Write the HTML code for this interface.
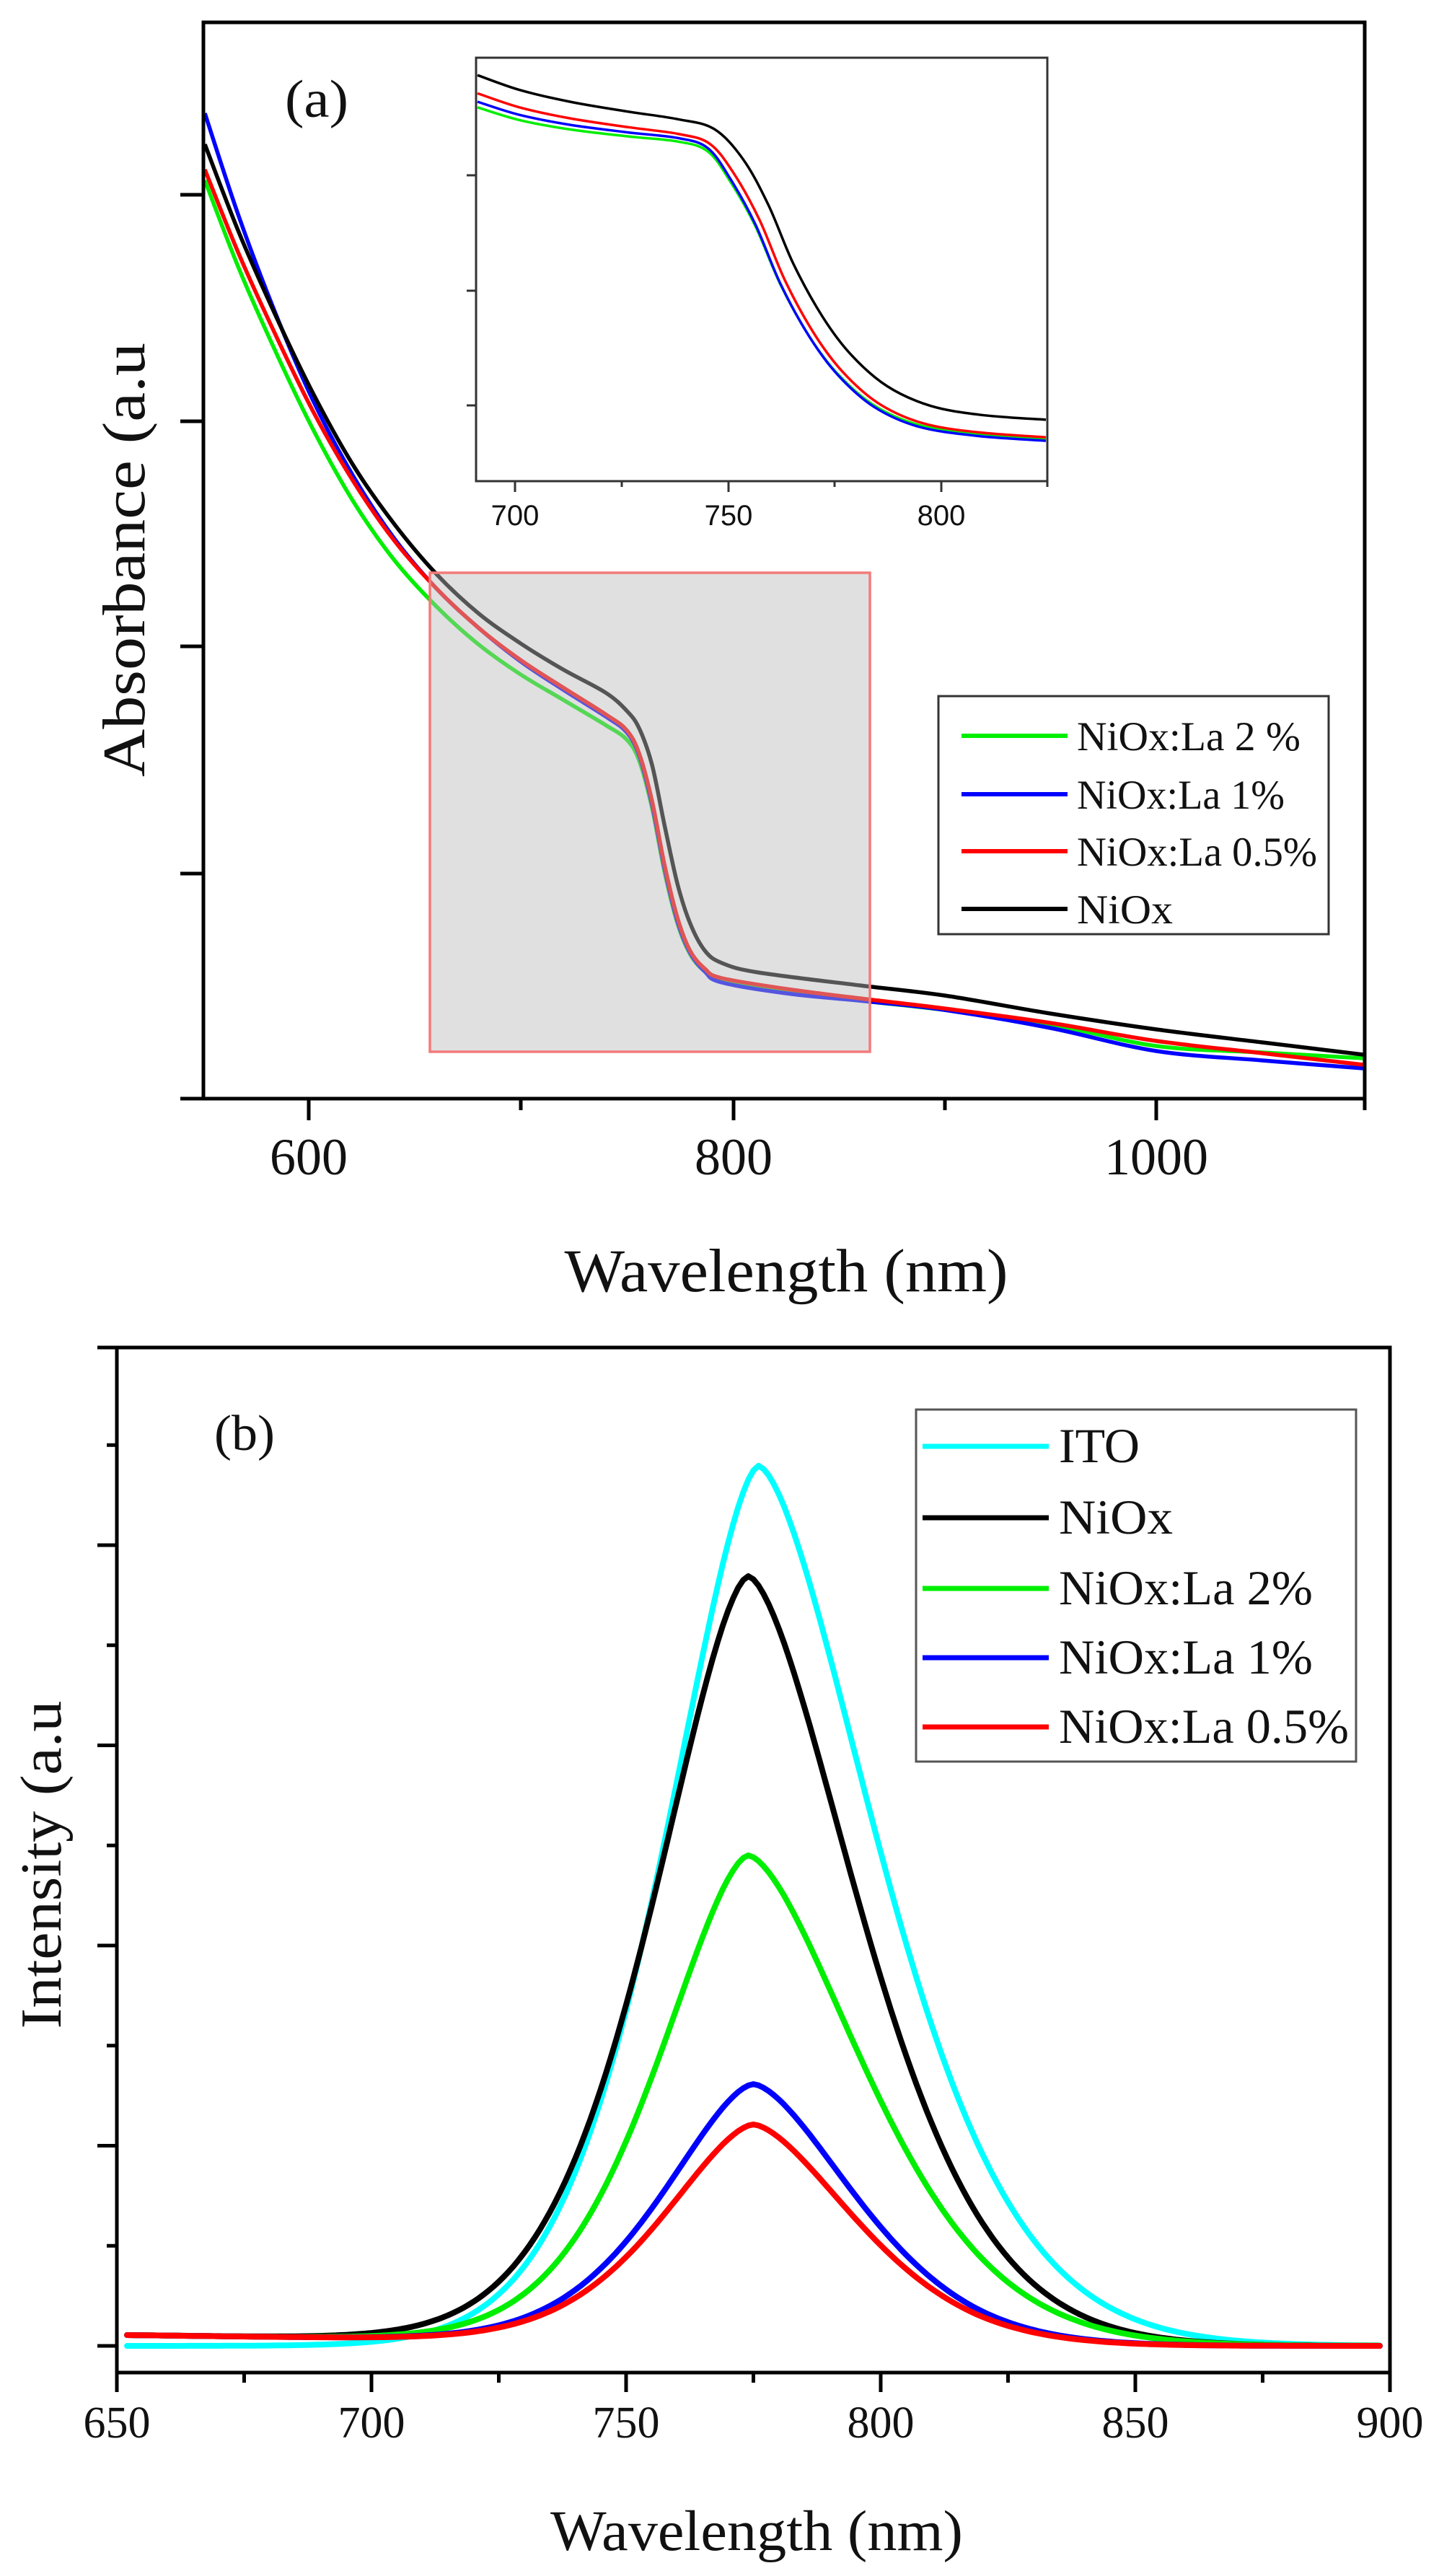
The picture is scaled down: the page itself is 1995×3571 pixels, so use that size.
<!DOCTYPE html>
<html><head><meta charset="utf-8"><style>
html,body{margin:0;padding:0;background:#fff;}
svg{display:block;}
text{font-family:"Liberation Serif",serif;fill:#111;}
.s{font-family:"Liberation Sans",sans-serif;}
</style></head><body>
<svg id="c" width="1995" height="3571" viewBox="0 0 1995 3571" xmlns="http://www.w3.org/2000/svg">
<rect width="1995" height="3571" fill="#fff"/>
<g id="gtop"></g>
<g id="gbot"></g>
<rect x="282" y="31" width="1610" height="1492" fill="none" stroke="#000" stroke-width="5"/>
<line x1="250" y1="1523" x2="282" y2="1523" stroke="#000" stroke-width="5"/>
<g stroke="#000" stroke-width="5">
<line x1="250" y1="270" x2="282" y2="270"/><line x1="250" y1="584" x2="282" y2="584"/>
<line x1="250" y1="896" x2="282" y2="896"/><line x1="250" y1="1211" x2="282" y2="1211"/>
<line x1="428" y1="1523" x2="428" y2="1553"/><line x1="1017" y1="1523" x2="1017" y2="1553"/><line x1="1603" y1="1523" x2="1603" y2="1553"/>
<line x1="722" y1="1523" x2="722" y2="1539"/><line x1="1310" y1="1523" x2="1310" y2="1539"/><line x1="1892" y1="1523" x2="1892" y2="1539"/>
</g>
<text x="428" y="1628" font-size="72" text-anchor="middle">600</text>
<text x="1017" y="1628" font-size="72" text-anchor="middle">800</text>
<text x="1603" y="1628" font-size="72" text-anchor="middle">1000</text>
<text x="1090" y="1790" font-size="85" text-anchor="middle" textLength="615" lengthAdjust="spacingAndGlyphs">Wavelength (nm)</text>
<text transform="translate(200,776) rotate(-90)" font-size="84" text-anchor="middle" textLength="602" lengthAdjust="spacingAndGlyphs">Absorbance (a.u</text>
<text x="395" y="162" font-size="74" textLength="88" lengthAdjust="spacingAndGlyphs">(a)</text>
<rect x="660" y="80" width="792" height="587" fill="none" stroke="#333" stroke-width="3"/>
<g stroke="#333" stroke-width="3">
<line x1="647" y1="243" x2="660" y2="243"/><line x1="647" y1="403" x2="660" y2="403"/><line x1="647" y1="562" x2="660" y2="562"/>
<line x1="714" y1="667" x2="714" y2="682"/><line x1="1010" y1="667" x2="1010" y2="682"/><line x1="1305" y1="667" x2="1305" y2="682"/>
<line x1="862" y1="667" x2="862" y2="675"/><line x1="1157" y1="667" x2="1157" y2="675"/><line x1="1452" y1="667" x2="1452" y2="675"/>
</g>
<text class="s" x="714" y="728" font-size="40" text-anchor="middle">700</text>
<text class="s" x="1010" y="728" font-size="40" text-anchor="middle">750</text>
<text class="s" x="1305" y="728" font-size="40" text-anchor="middle">800</text>
<rect x="1301" y="965" width="541" height="330" fill="#fff" stroke="#333" stroke-width="3"/>
<g stroke-width="6">
<line x1="1333" y1="1020" x2="1480" y2="1020" stroke="#00ee00"/>
<line x1="1333" y1="1101" x2="1480" y2="1101" stroke="#0000ff"/>
<line x1="1333" y1="1180" x2="1480" y2="1180" stroke="#ff0000"/>
<line x1="1333" y1="1260" x2="1480" y2="1260" stroke="#000"/>
</g>
<text x="1493" y="1040" font-size="57" textLength="310" lengthAdjust="spacingAndGlyphs">NiOx:La 2 %</text>
<text x="1493" y="1121" font-size="57" textLength="288" lengthAdjust="spacingAndGlyphs">NiOx:La 1%</text>
<text x="1493" y="1200" font-size="57" textLength="333" lengthAdjust="spacingAndGlyphs">NiOx:La 0.5%</text>
<text x="1493" y="1280" font-size="57" textLength="133" lengthAdjust="spacingAndGlyphs">NiOx</text>

<rect x="162" y="1868" width="1765" height="1421" fill="none" stroke="#000" stroke-width="5"/>
<line x1="135" y1="1868" x2="162" y2="1868" stroke="#000" stroke-width="5"/>
<g id="bt" stroke="#000" stroke-width="5"></g>
<text x="162" y="3379" font-size="62" text-anchor="middle">650</text>
<text x="515" y="3379" font-size="62" text-anchor="middle">700</text>
<text x="868" y="3379" font-size="62" text-anchor="middle">750</text>
<text x="1221" y="3379" font-size="62" text-anchor="middle">800</text>
<text x="1574" y="3379" font-size="62" text-anchor="middle">850</text>
<text x="1927" y="3379" font-size="62" text-anchor="middle">900</text>
<text x="1049" y="3535" font-size="79" text-anchor="middle" textLength="572" lengthAdjust="spacingAndGlyphs">Wavelength (nm)</text>
<text transform="translate(84,2585) rotate(-90)" font-size="80" text-anchor="middle" textLength="455" lengthAdjust="spacingAndGlyphs">Intensity (a.u</text>
<text x="297" y="2010" font-size="70" textLength="84" lengthAdjust="spacingAndGlyphs">(b)</text>
<rect x="1270" y="1954" width="610" height="488" fill="#fff" stroke="#555" stroke-width="3"/>
<g stroke-width="7">
<line x1="1279" y1="2005" x2="1454" y2="2005" stroke="#00ffff"/>
<line x1="1279" y1="2104" x2="1454" y2="2104" stroke="#000"/>
<line x1="1279" y1="2202" x2="1454" y2="2202" stroke="#00ee00"/>
<line x1="1279" y1="2298" x2="1454" y2="2298" stroke="#0000ff"/>
<line x1="1279" y1="2394" x2="1454" y2="2394" stroke="#ff0000"/>
</g>
<text x="1468" y="2027" font-size="68" textLength="112" lengthAdjust="spacingAndGlyphs">ITO</text>
<text x="1468" y="2126" font-size="68" textLength="158" lengthAdjust="spacingAndGlyphs">NiOx</text>
<text x="1468" y="2224" font-size="68" textLength="352" lengthAdjust="spacingAndGlyphs">NiOx:La 2%</text>
<text x="1468" y="2320" font-size="68" textLength="352" lengthAdjust="spacingAndGlyphs">NiOx:La 1%</text>
<text x="1468" y="2416" font-size="68" textLength="402" lengthAdjust="spacingAndGlyphs">NiOx:La 0.5%</text>
</svg>
<script>
(function(){
var NS="http://www.w3.org/2000/svg";
function el(p,n,a){var e=document.createElementNS(NS,n);for(var k in a)e.setAttribute(k,a[k]);p.appendChild(e);return e;}
function cr(pts){var d="M"+pts[0][0].toFixed(1)+","+pts[0][1].toFixed(1);
for(var i=0;i<pts.length-1;i++){var p0=pts[i-1]||pts[i],p1=pts[i],p2=pts[i+1],p3=pts[i+2]||p2;
d+="C"+(p1[0]+(p2[0]-p0[0])/6).toFixed(1)+","+(p1[1]+(p2[1]-p0[1])/6).toFixed(1)+" "+(p2[0]-(p3[0]-p1[0])/6).toFixed(1)+","+(p2[1]-(p3[1]-p1[1])/6).toFixed(1)+" "+p2[0].toFixed(1)+","+p2[1].toFixed(1);}
return d;}
var gt=document.getElementById("gtop");
function X(l){return 428+(l-600)*2.9375;}
function conv(a){var o=[];for(var i=0;i<a.length;i+=2)o.push([X(a[i]),a[i+1]]);o[0][0]=284;o[o.length-1][0]=1890;return o;}
var black=conv([550,200,567,322,584,435,602,545,621,645,640,725,660,795,680,850,700,892,720,928,740,960,750,985,756,1010,762,1060,768,1145,774,1225,780,1280,787,1318,795,1335,812,1348,860,1366,900,1380,950,1405,1000,1427,1050,1445,1098,1462]);
var green=conv([550,250,567,372,584,485,602,595,621,695,640,775,660,840,680,893,700,935,720,970,740,1005,750,1025,756,1055,762,1120,768,1210,774,1280,780,1323,787,1347,795,1360,828,1376,863,1388,900,1400,950,1420,1000,1450,1050,1459,1098,1467]);
var red=conv([550,235,567,352,584,462,602,570,621,667,640,748,660,815,680,870,700,915,720,953,740,990,750,1012,756,1045,762,1110,768,1200,774,1272,780,1318,787,1343,795,1356,828,1372,863,1385,900,1398,950,1418,1000,1443,1050,1460,1098,1476]);
var blue=conv([550,157,567,300,584,432,602,555,621,660,640,745,660,815,680,870,700,917,720,956,740,993,750,1015,756,1048,762,1115,768,1205,774,1277,780,1321,787,1347,795,1362,828,1378,863,1388,900,1400,950,1425,1000,1457,1050,1470,1098,1481]);
[[green,"#00ee00"],[blue,"#0000ff"],[red,"#ff0000"],[black,"#000"]].forEach(function(s){el(gt,"path",{d:cr(s[0]),fill:"none",stroke:s[1],"stroke-width":5.5,"stroke-linejoin":"round"});});
el(gt,"rect",{x:596,y:794,width:610,height:664,fill:"rgba(187,187,187,0.455)",stroke:"#f47a7a","stroke-width":3.5});
function iy(a,dx){var o=[];for(var i=0;i<a.length;i+=2){var x=a[i];if(x>960&&x<1400)x-=dx*Math.min(1,(x-960)/60)*Math.min(1,(1400-x)/120);o.push([x,80+(a[i+1]-80)*0.969]);}o[0][0]=662;o[o.length-1][0]=1450;return o;}
function inset(y0,shelf,end,dx){
 var b=[663,105,720,126,790,143,870,157,940,168,990,182,1030,225,1065,290,1100,375,1140,450,1180,505,1230,550,1290,578,1360,591,1452,598];
 var o=[];for(var i=0;i<b.length;i+=2){var x=b[i],y=b[i+1],t;
  if(x<=940){t=(x-663)/277;y=y+(y0-105)*(1-t)+(shelf-168)*t;}
  else{t=Math.min(1,(y-168)/(598-168));y=y+(shelf-168)*(1-t)+(end-598)*t;}
  o.push(x,y);}
 return iy(o,dx);}
var ib=inset(105,168,598,0),ir=inset(131,189,623,12),ibl=inset(143,195,628,18),ig=inset(151,200,625,18);
[[ig,"#00ee00"],[ibl,"#0000ff"],[ir,"#ff0000"],[ib,"#000"]].forEach(function(s){el(gt,"path",{d:cr(s[0]),fill:"none",stroke:s[1],"stroke-width":3.5});});
var gb=document.getElementById("gbot");
function BX(l){return 162+(l-650)*7.06;}
var Z=3252;
function pk(A,c,sl,sr,base){var p=[];for(var l=652;l<=898.3;l+=1){var d=l-c,s=d<0?sl:sr;var v=A*Math.exp(-Math.pow(Math.abs(d)/s,1.6));var b=base?Math.max(0,15-(l-652)*0.09):0;p.push([BX(l),Z-v-b]);}return p;}
function line(p){var d="M"+p[0][0].toFixed(1)+","+p[0][1].toFixed(1);for(var i=1;i<p.length;i++)d+="L"+p[i][0].toFixed(1)+","+p[i][1].toFixed(1);return d;}
[[pk(1220,776,26.6,33.8,false),"#00ffff"],[pk(1063,774,27.1,31.5,true),"#000"],[pk(676,774,25.8,32.7,true),"#00ee00"],[pk(359,775,25.8,29,true),"#0000ff"],[pk(303,775,25.8,29,true),"#ff0000"]].forEach(function(s){el(gb,"path",{d:line(s[0]),fill:"none",stroke:s[1],"stroke-width":8,"stroke-linecap":"round","stroke-linejoin":"round"});});
var bt=document.getElementById("bt");
for(var k=0;k<5;k++){var y=Z-k*277.5;el(bt,"line",{x1:135,y1:y,x2:162,y2:y});var y2=y-138.75;el(bt,"line",{x1:148,y1:y2,x2:162,y2:y2});}
for(var l=650;l<=900;l+=25){var x=BX(l);var mj=(l%50==0);el(bt,"line",{x1:x,y1:3289,x2:x,y2:mj?3316:3303});}
})();
</script>
</body></html>
